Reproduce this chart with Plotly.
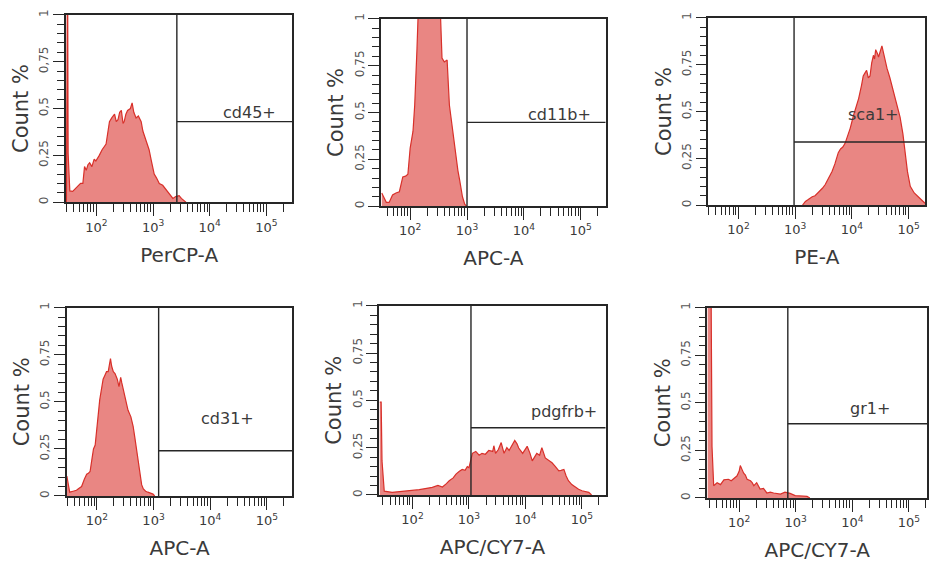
import plotly.graph_objects as go

W, H = 929, 564

# ---------------- data (x: log10 fluorescence, y: normalized Count %) ----------------
cd45_lx = [1.47, 1.49, 1.50, 1.53, 1.58, 1.66, 1.72, 1.76, 1.79, 1.82, 1.85, 1.88, 1.92, 1.96, 1.99,
           2.05, 2.10, 2.17, 2.20, 2.23, 2.27, 2.32, 2.35, 2.38, 2.41, 2.44, 2.47, 2.49, 2.52, 2.55,
           2.60, 2.63, 2.66, 2.70, 2.74, 2.79, 2.82, 2.85, 2.89, 2.93, 2.97, 3.02, 3.06, 3.11, 3.17,
           3.23, 3.29, 3.35, 3.40, 3.46, 3.50, 3.55, 3.58]
cd45_y = [0.0, 1.3, 0.26, 0.06, 0.058, 0.08, 0.10, 0.10, 0.19, 0.17, 0.20, 0.21, 0.19, 0.23, 0.22,
          0.25, 0.28, 0.31, 0.36, 0.43, 0.45, 0.47, 0.43, 0.44, 0.48, 0.49, 0.42, 0.43, 0.47, 0.49,
          0.50, 0.53, 0.48, 0.45, 0.46, 0.43, 0.38, 0.35, 0.31, 0.28, 0.22, 0.15, 0.13, 0.10, 0.09,
          0.066, 0.04, 0.02, 0.03, 0.035, 0.02, 0.005, 0.0]

cd11b_lx = [1.50, 1.55, 1.58, 1.63, 1.69, 1.75, 1.81, 1.87, 1.92, 1.96, 2.00, 2.05, 2.08, 2.12, 2.16,
            2.35, 2.50, 2.53, 2.56, 2.60, 2.65, 2.69, 2.74, 2.78, 2.84, 2.87, 2.92, 2.96, 2.99]
cd11b_y = [0.07, 0.04, 0.02, 0.02, 0.06, 0.07, 0.077, 0.156, 0.16, 0.17, 0.31, 0.40, 0.54, 0.84, 1.2,
           1.3, 1.2, 1.05, 0.79, 0.77, 0.78, 0.54, 0.42, 0.31, 0.19, 0.14, 0.05, 0.01, 0.0]

sca1_lx = [3.13, 3.18, 3.23, 3.30, 3.35, 3.42, 3.48, 3.53, 3.60, 3.65, 3.70, 3.76, 3.80, 3.84, 3.88,
           3.93, 3.97, 4.03, 4.08, 4.12, 4.17, 4.20, 4.24, 4.26, 4.29, 4.32, 4.35, 4.38, 4.40, 4.42,
           4.45, 4.47, 4.50, 4.53, 4.56, 4.58, 4.62, 4.67, 4.71, 4.76, 4.80, 4.85, 4.90, 4.94, 4.98,
           5.03, 5.10, 5.17, 5.23, 5.29]
sca1_y = [0.0, 0.02, 0.03, 0.045, 0.05, 0.07, 0.09, 0.11, 0.15, 0.18, 0.22, 0.28, 0.30, 0.31, 0.33,
          0.37, 0.41, 0.48, 0.53, 0.57, 0.64, 0.69, 0.71, 0.72, 0.68, 0.69, 0.76, 0.80, 0.78, 0.83,
          0.81, 0.79, 0.82, 0.85, 0.81, 0.78, 0.73, 0.68, 0.63, 0.57, 0.52, 0.47, 0.38, 0.27, 0.18,
          0.10, 0.065, 0.045, 0.025, 0.01]

cd31_lx = [1.47, 1.50, 1.52, 1.58, 1.64, 1.68, 1.73, 1.78, 1.82, 1.85, 1.88, 1.91, 1.94, 1.97, 1.99,
           2.02, 2.05, 2.08, 2.11, 2.14, 2.17, 2.20, 2.22, 2.24, 2.26, 2.29, 2.32, 2.36, 2.39, 2.42,
           2.44, 2.49, 2.52, 2.55, 2.60, 2.64, 2.67, 2.70, 2.73, 2.76, 2.79, 2.82, 2.86, 2.90, 2.95,
           2.99, 3.02]
cd31_y = [0.106, 0.05, 0.02, 0.025, 0.03, 0.04, 0.05, 0.09, 0.115, 0.12, 0.13, 0.19, 0.25, 0.27, 0.32,
          0.42, 0.51, 0.56, 0.62, 0.64, 0.66, 0.66, 0.70, 0.73, 0.69, 0.66, 0.65, 0.62, 0.58, 0.63,
          0.60, 0.53, 0.50, 0.455, 0.42, 0.37, 0.31, 0.25, 0.18, 0.106, 0.06, 0.037, 0.025, 0.02, 0.012,
          0.01, 0.0]

pdgfrb_lx = [1.42, 1.445, 1.46, 1.50, 1.64, 1.80, 1.94, 2.05, 2.12, 2.25, 2.35, 2.45, 2.53, 2.60, 2.65,
             2.72, 2.77, 2.83, 2.88, 2.93, 2.97, 3.00, 3.03, 3.06, 3.12, 3.18, 3.23, 3.29, 3.35, 3.42,
             3.44, 3.47, 3.52, 3.57, 3.62, 3.67, 3.71, 3.76, 3.81, 3.85, 3.88, 3.95, 3.99, 4.03, 4.08,
             4.12, 4.16, 4.20, 4.25, 4.29, 4.35, 4.41, 4.47, 4.53, 4.59, 4.63, 4.68, 4.72, 4.76, 4.82,
             4.88, 4.94, 5.00, 5.06, 5.12, 5.17]
pdgfrb_y = [0.49, 0.49, 0.18, 0.02, 0.014, 0.018, 0.02, 0.025, 0.028, 0.035, 0.04, 0.05, 0.042, 0.06, 0.075,
            0.09, 0.11, 0.125, 0.135, 0.13, 0.15, 0.144, 0.18, 0.22, 0.23, 0.21, 0.22, 0.215, 0.235, 0.23,
            0.26, 0.22, 0.24, 0.277, 0.22, 0.25, 0.235, 0.26, 0.288, 0.27, 0.248, 0.22, 0.24, 0.257, 0.22,
            0.18, 0.20, 0.22, 0.21, 0.25, 0.196, 0.185, 0.17, 0.15, 0.127, 0.13, 0.135, 0.10, 0.075, 0.055,
            0.04, 0.03, 0.022, 0.018, 0.014, 0.0]

gr1_lx = [1.44, 1.50, 1.52, 1.55, 1.61, 1.67, 1.73, 1.81, 1.86, 1.90, 1.96, 2.00, 2.02, 2.05, 2.08,
          2.11, 2.14, 2.20, 2.23, 2.26, 2.31, 2.37, 2.43, 2.49, 2.55, 2.61, 2.67, 2.73, 2.81, 2.90,
          2.99, 3.05, 3.11, 3.20, 3.25]
gr1_y = [1.3, 1.3, 0.27, 0.064, 0.08, 0.07, 0.095, 0.098, 0.09, 0.10, 0.115, 0.14, 0.17, 0.15, 0.13,
         0.12, 0.098, 0.09, 0.08, 0.064, 0.08, 0.047, 0.05, 0.026, 0.03, 0.026, 0.022, 0.02, 0.03, 0.024,
         0.012, 0.01, 0.008, 0.008, 0.0]

x_titles = ["PerCP-A", "APC-A", "PE-A", "APC-A", "APC/CY7-A", "APC/CY7-A"]
gate_names = ["cd45+", "cd11b+", "sca1+", "cd31+", "pdgfrb+", "gr1+"]
gate_lx = [3.42, 3.0, 2.98, 3.09, 3.035, 2.86]        # gate start (log10)
gate_level = [0.43, 0.447, 0.337, 0.24, 0.355, 0.39]  # gate bar height
label_lx = [4.71, 4.62, 4.39, 4.31, 4.68, 4.32]
label_y = [0.48, 0.49, 0.485, 0.41, 0.44, 0.47]

x_tickvals = [100, 1000, 10000, 100000]
x_ticktext = ["10<sup>2</sup>", "10<sup>3</sup>", "10<sup>4</sup>", "10<sup>5</sup>"]
y_tickvals = [0, 0.25, 0.5, 0.75, 1]
y_ticktext = ["0", "0,25", "0,5", "0,75", "1"]

series = [(cd45_lx, cd45_y), (cd11b_lx, cd11b_y), (sca1_lx, sca1_y),
          (cd31_lx, cd31_y), (pdgfrb_lx, pdgfrb_y), (gr1_lx, gr1_y)]

# ---------------- layout geometry (pixels: left, right, top, bottom) ----------------
boxes = [(66, 293, 9, 199), (382, 607, 13, 203), (710, 927, 12, 202),
         (67, 293, 306, 497), (380, 607, 304, 496), (709, 929, 306, 499)]
x_ranges = [(1.46, 5.46), (1.49, 5.44), (1.47, 5.29), (1.47, 5.45), (1.41, 5.42), (1.44, 5.32)]

FILL = "rgba(232,128,124,0.95)"
LINE = "#d8302a"
AXC = "#262626"
TXT = "#3a3a3a"
FONT = "DejaVu Sans"

minor_x = [m * 10 ** d for d in range(1, 6) for m in range(2, 10)]

fig = go.Figure()
layout = dict(width=W, height=H, margin=dict(l=0, r=0, t=0, b=0),
              paper_bgcolor="white", plot_bgcolor="white", showlegend=False,
              font=dict(family=FONT, color=TXT))
annotations = []

for i, ((lx, yv), box, xr) in enumerate(zip(series, boxes, x_ranges)):
    k = "" if i == 0 else str(i + 1)
    xa, ya = "x" + k, "y" + k
    l, r, t, b = box
    hi_val = 10 ** xr[1]
    fig.add_trace(go.Scatter(x=[10 ** v for v in lx], y=yv, xaxis=xa, yaxis=ya, mode="lines",
                             line=dict(color=LINE, width=1.2), fill="tozeroy", fillcolor=FILL,
                             hoverinfo="skip"))
    g = 10 ** gate_lx[i]
    fig.add_trace(go.Scatter(x=[g, g], y=[0, 1], xaxis=xa, yaxis=ya, mode="lines",
                             line=dict(color=AXC, width=1.4), hoverinfo="skip", cliponaxis=False))
    fig.add_trace(go.Scatter(x=[g, hi_val], y=[gate_level[i]] * 2, xaxis=xa, yaxis=ya, mode="lines",
                             line=dict(color=AXC, width=1.4), hoverinfo="skip", cliponaxis=False))
    layout["xaxis" + k] = dict(
        type="log", range=list(xr), domain=[l / W, r / W], anchor=ya,
        tickvals=x_tickvals, ticktext=x_ticktext, ticks="outside", ticklen=12, tickwidth=1.3,
        tickcolor=AXC, tickfont=dict(size=13, color=TXT),
        minor=dict(tickvals=minor_x, ticks="outside", ticklen=8, tickwidth=1.3, tickcolor=AXC, showgrid=False),
        showline=True, mirror=True, linecolor=AXC, linewidth=1.5, showgrid=False, zeroline=False,
        title=dict(text=x_titles[i], font=dict(size=20, color=TXT), standoff=14))
    layout["yaxis" + k] = dict(
        range=[0, 1], domain=[1 - b / H, 1 - t / H], anchor=xa,
        tickvals=y_tickvals, ticktext=y_ticktext, tickangle=-90, ticks="outside", ticklen=11,
        tickwidth=1.3, tickcolor=AXC, tickfont=dict(size=12, color="#555"),
        minor=dict(tickmode="linear", tick0=0, dtick=0.05, ticks="outside", ticklen=7, tickwidth=1.3,
                   tickcolor=AXC, showgrid=False),
        showline=True, mirror=True, linecolor=AXC, linewidth=1.5, showgrid=False, zeroline=False,
        title=dict(text="Count %", font=dict(size=21, color=TXT), standoff=3))
    annotations.append(dict(x=label_lx[i], y=label_y[i], xref=xa, yref=ya, text=gate_names[i],
                            showarrow=False, font=dict(size=16, color=TXT), xanchor="center",
                            yanchor="middle"))

layout["annotations"] = annotations
fig.update_layout(**layout)
fig.write_html("out.html", config={"displayModeBar": False},
               post_script="document.body.style.margin='0';document.body.style.overflow='hidden';")
